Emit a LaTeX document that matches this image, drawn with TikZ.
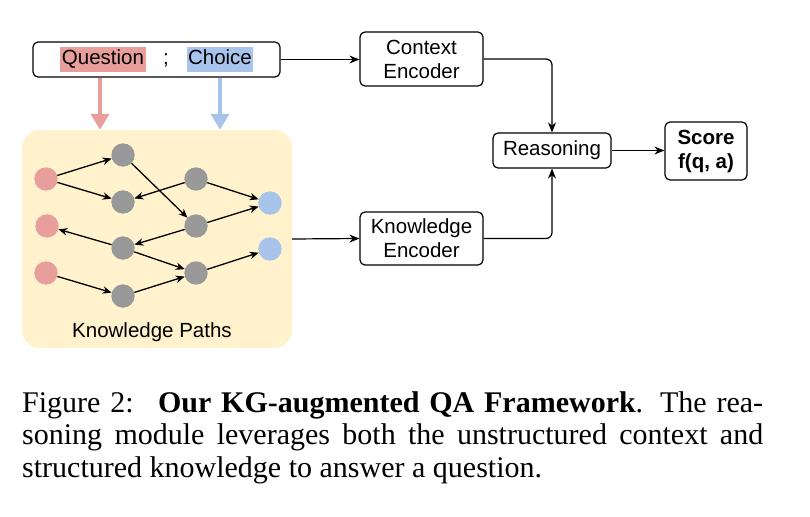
\documentclass[tikz,border=0pt]{standalone}
\usepackage{fontspec}
\setmainfont{Liberation Serif}
\newfontfamily\labelfont{Liberation Sans}
\usetikzlibrary{arrows.meta,calc}
\definecolor{qred}{RGB}{232,158,154}
\definecolor{cblue}{RGB}{169,196,235}
\definecolor{ngray}{RGB}{153,153,153}
\definecolor{kgyellow}{RGB}{255,242,204}
\tikzset{
  lbl/.style={font=\labelfont\fontsize{20.5}{24}\selectfont},
  box/.style={draw=black, line width=1.2pt, rounded corners=5pt, fill=white, lbl, align=center, inner sep=0pt},
  conn/.style={line width=1.2pt, -{Stealth[length=10pt,width=8pt]}},
  gconn/.style={line width=1.3pt, -{Stealth[length=9pt,width=7.5pt]}},
  dot/.style={circle, inner sep=0pt, minimum size=23.4pt},
  rdot/.style={dot, fill=qred},
  gdot/.style={dot, fill=ngray},
  bdot/.style={dot, fill=cblue},
  hl/.style={lbl, inner xsep=1.5pt, inner ysep=2.5pt, text height=15pt, text depth=5pt},
  fat/.style={line width=4.6pt, -{Triangle[length=16pt,width=18pt]}},
  captext/.style={font=\fontsize{30}{33}\selectfont, anchor=base west, inner sep=0pt}
}
\begin{document}
\begin{tikzpicture}[x=1pt,y=-1pt]
\useasboundingbox (0,0) rectangle (810,516);
% knowledge graph box
\node[fill=kgyellow, rounded corners=18pt, minimum width=270pt, minimum height=218pt, inner sep=0pt] (kg) at (157,239) {};
\node[lbl] (kgl) at (152,332) {Knowledge Paths};
% input box
\node[box, minimum width=247pt, minimum height=35pt] (input) at (156.5,59.5) {};
\node[hl, fill=qred] (q) at (103,60) {Question};
\node[hl] (semi) at (166,60) {;};
\node[hl, fill=cblue] (c) at (220,60) {Choice};
% encoder boxes
\node[box, minimum width=123pt, minimum height=54pt] (ce) at (421.5,59) {Context\\Encoder};
\node[box, minimum width=123pt, minimum height=53pt] (ke) at (421.5,238.5) {Knowledge\\Encoder};
\node[box, minimum width=118pt, minimum height=35pt] (re) at (552,150.5) {Reasoning};
\node[box, minimum width=82pt, minimum height=58pt, font=\labelfont\bfseries\fontsize{20.5}{24}\selectfont] (sc) at (706,151) {Score\\f(q, a)};
% colored arrows
\draw[fat, draw=qred, fill=qred] ([xshift=-3pt]q.south |- input.south) -- ([xshift=-3pt]q.south |- kg.north);
\draw[fat, draw=cblue, fill=cblue] (c.south |- input.south) -- (c.south |- kg.north);
% connectors
\draw[conn] (input.east) -- (ce.west |- input.east);
\draw[conn] (kg.east) -- (ke.west);
\draw[conn, rounded corners=6pt] (ce.east) -| (re.north);
\draw[conn, rounded corners=6pt] (ke.east) -| (re.south);
\draw[conn] (re.east) -- (sc.west |- re.east);
% graph nodes
\node[rdot] (r1) at (46,179) {};
\node[rdot] (r2) at (47,226) {};
\node[rdot] (r3) at (46,273) {};
\node[gdot] (g1) at (123,155) {};
\node[gdot] (g2) at (123,202) {};
\node[gdot] (g3) at (196,179) {};
\node[gdot] (g4) at (196,226) {};
\node[gdot] (g5) at (123,248) {};
\node[gdot] (g6) at (196,273) {};
\node[gdot] (g7) at (123,296) {};
\node[bdot] (b1) at (270,203) {};
\node[bdot] (b2) at (270,249) {};
% graph edges
\draw[gconn] (r1) -- (g1);
\draw[gconn] (r1) -- (g2);
\draw[gconn] (g1) -- (g4);
\draw[gconn] (g3) -- (g2);
\draw[gconn] (g3) -- (b1);
\draw[gconn] (g4) -- (b1);
\draw[gconn] (g4) -- (g5);
\draw[gconn] (g5) -- (r2);
\draw[gconn] (g5) -- (g6);
\draw[gconn] (r3) -- (g7);
\draw[gconn] (g7) -- (g6);
\draw[gconn] (g6) -- (b2);
% caption
\node[captext] (cap1) at (22,412) {\makebox[741pt][s]{Figure 2: \ \textbf{Our KG-augmented QA Framework}. The rea-}};
\node[captext] (cap2) at (22,444.5) {\makebox[741pt][s]{soning module leverages both the unstructured context and}};
\node[captext] (cap3) at (22,477) {structured knowledge to answer a question.};
\end{tikzpicture}
\end{document}
